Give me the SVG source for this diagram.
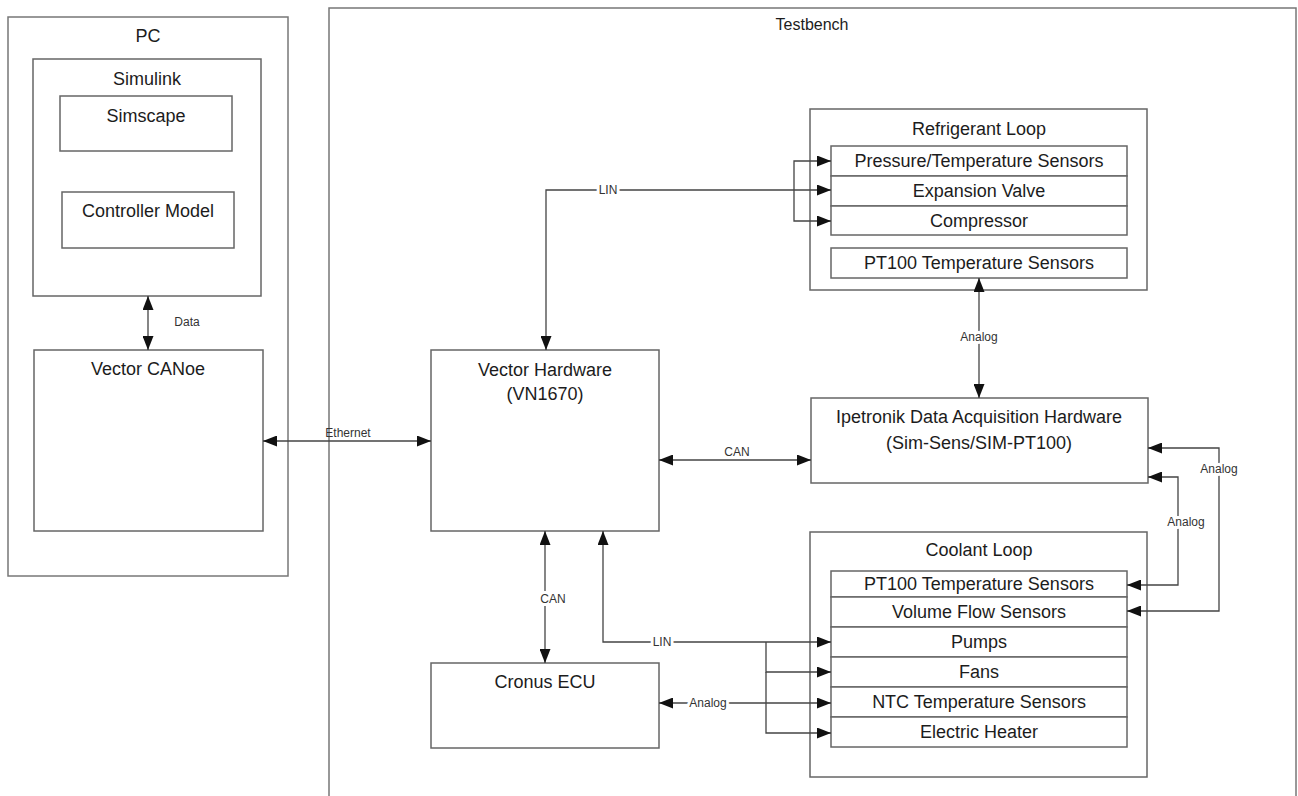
<svg xmlns="http://www.w3.org/2000/svg" width="1298" height="796" viewBox="0 0 1298 796">
  <style>
    .box { fill: #fff; stroke: #666; stroke-width: 1.5; }
    .frame { fill: none; stroke: #777; stroke-width: 1.5; }
    .t { font-family: "Liberation Sans", Arial, sans-serif; font-size: 18px; fill: #1c1c1c; text-anchor: middle; }
    .tb { font-size: 16px; }
    .lbl { font-family: "Liberation Sans", Arial, sans-serif; font-size: 12px; fill: #333; text-anchor: middle; }
    .halo { paint-order: stroke; stroke: #fff; stroke-width: 6px; stroke-linejoin: round; }
    .wire { fill: none; stroke: #444; stroke-width: 1.3; }
    .a2 { marker-start: url(#ah); marker-end: url(#ah); }
    .a1 { marker-end: url(#ah); }
  </style>
  <defs>
    <marker id="ah" markerUnits="userSpaceOnUse" markerWidth="15" markerHeight="11" refX="14" refY="5.5" orient="auto-start-reverse">
      <path d="M0,0 L14,5.5 L0,11 z" fill="#111"/>
    </marker>
  </defs>

  <!-- PC side -->
  <g id="pc">
    <rect class="frame" x="8" y="17" width="280" height="559"/>
    <text class="t" x="148" y="42">PC</text>
  </g>
  <g id="simulink">
    <rect class="box" x="33" y="59" width="228" height="237"/>
    <text class="t" x="147" y="85">Simulink</text>
  </g>
  <g id="simscape">
    <rect class="box" x="60" y="96" width="172" height="55"/>
    <text class="t" x="146" y="122">Simscape</text>
  </g>
  <g id="controller-model">
    <rect class="box" x="62" y="192" width="172" height="56"/>
    <text class="t" x="148" y="217">Controller Model</text>
  </g>
  <g id="vector-canoe">
    <rect class="box" x="34" y="350" width="229" height="181"/>
    <text class="t" x="148" y="375">Vector CANoe</text>
  </g>

  <!-- Testbench side -->
  <g id="testbench">
    <rect class="frame" x="329" y="8" width="967" height="800"/>
    <text class="t tb" x="812" y="30">Testbench</text>
  </g>
  <g id="refrigerant-loop">
    <rect class="box" x="810" y="109" width="337" height="181"/>
    <text class="t" x="979" y="135">Refrigerant Loop</text>
    <rect class="box" x="831" y="146" width="296" height="30"/>
    <text class="t" x="979" y="167">Pressure/Temperature Sensors</text>
    <rect class="box" x="831" y="176" width="296" height="30"/>
    <text class="t" x="979" y="197">Expansion Valve</text>
    <rect class="box" x="831" y="206" width="296" height="29"/>
    <text class="t" x="979" y="227">Compressor</text>
    <rect class="box" x="831" y="248" width="296" height="30"/>
    <text class="t" x="979" y="269">PT100 Temperature Sensors</text>
  </g>
  <g id="vector-hardware">
    <rect class="box" x="431" y="350" width="228" height="181"/>
    <text class="t" x="545" y="376">Vector Hardware</text>
    <text class="t" x="545" y="400">(VN1670)</text>
  </g>
  <g id="ipetronik">
    <rect class="box" x="811" y="398" width="337" height="85"/>
    <text class="t" x="979" y="423">Ipetronik Data Acquisition Hardware</text>
    <text class="t" x="979" y="449">(Sim-Sens/SIM-PT100)</text>
  </g>
  <g id="coolant-loop">
    <rect class="box" x="810" y="532" width="337" height="245"/>
    <text class="t" x="979" y="556">Coolant Loop</text>
    <rect class="box" x="831" y="571" width="296" height="26"/>
    <text class="t" x="979" y="590">PT100 Temperature Sensors</text>
    <rect class="box" x="831" y="597" width="296" height="30"/>
    <text class="t" x="979" y="618">Volume Flow Sensors</text>
    <rect class="box" x="831" y="627" width="296" height="30"/>
    <text class="t" x="979" y="648">Pumps</text>
    <rect class="box" x="831" y="657" width="296" height="30"/>
    <text class="t" x="979" y="678">Fans</text>
    <rect class="box" x="831" y="687" width="296" height="30"/>
    <text class="t" x="979" y="708">NTC Temperature Sensors</text>
    <rect class="box" x="831" y="717" width="296" height="30"/>
    <text class="t" x="979" y="738">Electric Heater</text>
  </g>
  <g id="cronus-ecu">
    <rect class="box" x="431" y="663" width="228" height="85"/>
    <text class="t" x="545" y="688">Cronus ECU</text>
  </g>

  <!-- connectors -->
  <g id="connectors">
    <!-- Data -->
    <line class="wire a2" x1="148" y1="296" x2="148" y2="350"/>
    <text class="lbl" x="187" y="326">Data</text>
    <!-- Ethernet -->
    <line class="wire a2" x1="263" y1="441" x2="431" y2="441"/>
    <text class="lbl" x="348" y="437">Ethernet</text>
    <!-- LIN to refrigerant loop -->
    <polyline class="wire a2" points="546,350 546,190 831,190"/>
    <polyline class="wire a1" points="794,190 794,161 831,161"/>
    <polyline class="wire a1" points="794,190 794,221 831,221"/>
    <text class="lbl halo" x="608" y="194">LIN</text>
    <!-- Analog refrigerant PT100 to Ipetronik -->
    <line class="wire a2" x1="979" y1="278" x2="979" y2="398"/>
    <text class="lbl halo" x="979" y="341">Analog</text>
    <!-- CAN to Ipetronik -->
    <line class="wire a2" x1="659" y1="460" x2="811" y2="460"/>
    <text class="lbl" x="737" y="456">CAN</text>
    <!-- Analog coolant sensors to Ipetronik -->
    <polyline class="wire a2" points="1148,448 1219,448 1219,611 1127,611"/>
    <text class="lbl halo" x="1219" y="473">Analog</text>
    <polyline class="wire a2" points="1148,477 1178,477 1178,585 1127,585"/>
    <text class="lbl halo" x="1186" y="526">Analog</text>
    <!-- CAN to Cronus ECU -->
    <line class="wire a2" x1="545" y1="531" x2="545" y2="663"/>
    <text class="lbl halo" x="553" y="603">CAN</text>
    <!-- LIN to coolant loop -->
    <polyline class="wire a2" points="603,531 603,642 831,642"/>
    <polyline class="wire a1" points="766,642 766,672 831,672"/>
    <polyline class="wire a1" points="766,672 766,733 831,733"/>
    <text class="lbl halo" x="662" y="646">LIN</text>
    <!-- Analog Cronus to NTC sensors -->
    <line class="wire a2" x1="659" y1="703" x2="831" y2="703"/>
    <text class="lbl halo" x="708" y="707">Analog</text>
  </g>
</svg>
